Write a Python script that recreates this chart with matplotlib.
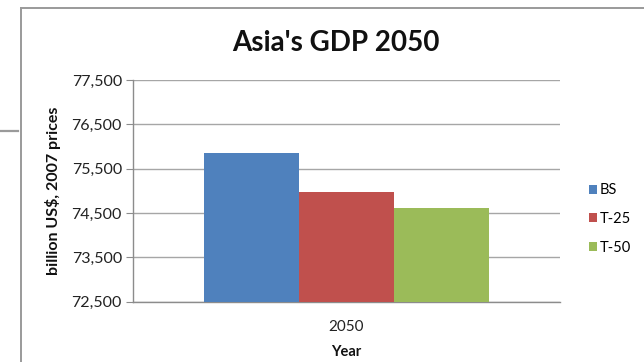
import matplotlib
matplotlib.use("Agg")
import matplotlib.pyplot as plt
from matplotlib.lines import Line2D
from matplotlib.patches import Patch
from matplotlib.ticker import FuncFormatter

plt.rcParams['font.family'] = ['Lato', 'DejaVu Sans']

# Data
categories = ["2050"]
series_names = ["BS", "T-25", "T-50"]
series_values = [75860, 74980, 74600]
series_colors = ["#4F81BD", "#C0504D", "#9BBB59"]
y_ticks = [72500, 73500, 74500, 75500, 76500, 77500]

W, H = 644, 362
fig = plt.figure(figsize=(W / 100, H / 100), dpi=100)
fig.patch.set_facecolor("white")

# Chart frame lines
border = "#9A9A9A"
fig.add_artist(Line2D([21 / W, 21 / W], [0, 1 - 7.5 / H], transform=fig.transFigure,
                      color=border, lw=1.4))
fig.add_artist(Line2D([21 / W, 1], [1 - 7.5 / H, 1 - 7.5 / H], transform=fig.transFigure,
                      color=border, lw=1.4))
fig.add_artist(Line2D([0, 18 / W], [1 - 131 / H, 1 - 131 / H], transform=fig.transFigure,
                      color=border, lw=1.6))

left, right, top, bottom = 133, 560, 80, 301.5
ax = fig.add_axes([left / W, 1 - bottom / H, (right - left) / W, (bottom - top) / H])

bar_w = 0.2225
offsets = [-bar_w, 0.0, bar_w]
for name, val, col, off in zip(series_names, series_values, series_colors, offsets):
    ax.bar(0 + off, val - y_ticks[0], bottom=y_ticks[0], width=bar_w, color=col,
           label=name, zorder=3)

ax.set_xlim(-0.5, 0.5)
ax.set_ylim(y_ticks[0], y_ticks[-1])
ax.set_yticks(y_ticks)
ax.yaxis.set_major_formatter(FuncFormatter(lambda v, p: f"{int(v):,}"))
ax.set_xticks([0])
ax.set_xticklabels(categories)

ax.grid(axis="y", color="#A6A6A6", lw=1.0, zorder=0)
for s in ["top", "right"]:
    ax.spines[s].set_visible(False)
for s in ["left", "bottom"]:
    ax.spines[s].set_color("#8C8C8C")
    ax.spines[s].set_linewidth(1.0)

ax.tick_params(axis="y", length=5, color="#8C8C8C", labelsize=11.5, labelcolor="#222222", pad=3)
ax.tick_params(axis="x", length=0, labelsize=11, labelcolor="#222222", pad=13)

ax.set_xlabel("Year", fontsize=10.5, fontweight="bold", color="#111111")
ax.xaxis.set_label_coords(0.5, -0.196)

fig.text(53 / W, 1 - 191 / H, "billion US$, 2007 prices", rotation=90,
         ha="center", va="center", fontsize=11.5, fontweight="bold", color="#111111")

fig.text(336 / W, 1 - 43 / H, "Asia's GDP 2050", ha="center", va="center",
         fontsize=20, fontweight="bold", color="#111111")

handles = [Patch(facecolor=c, edgecolor="none") for c in series_colors]
fig.legend(handles, series_names, loc="center left",
           bbox_to_anchor=(576 / W, 1 - 219 / H), frameon=False,
           handlelength=0.55, handleheight=0.6, handletextpad=0.2,
           labelspacing=1.0, fontsize=10.5)

fig.savefig("out.png", dpi=100, facecolor="white")
